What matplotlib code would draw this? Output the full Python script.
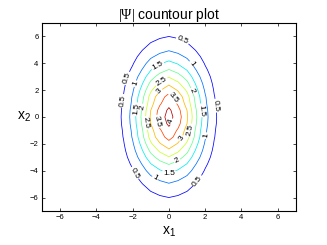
import numpy as np
import matplotlib
matplotlib.use('Agg')
import matplotlib.pyplot as plt

plt.rcParams['font.family'] = ['Liberation Sans', 'DejaVu Sans']
plt.rcParams['mathtext.fontset'] = 'custom'
plt.rcParams['mathtext.rm'] = 'Liberation Serif'
plt.rcParams['mathtext.it'] = 'Liberation Sans'
plt.rcParams['mathtext.sf'] = 'Liberation Sans'

# |Psi| read along the x1 axis (x2 = 0) and along the x2 axis (x1 = 0)
grid_x = [-7, -6.5, -6, -5.5, -5, -4.5, -4, -3.5, -3, -2.5, -2, -1.5, -1, -0.5,
          0, 0.5, 1, 1.5, 2, 2.5, 3, 3.5, 4, 4.5, 5, 5.5, 6, 6.5, 7]
psi_x = [0, 0, 0, 0, 0, 0.01, 0.03, 0.09, 0.25, 0.59, 1.19, 2.07, 3.07, 3.75,
         4.2, 3.75, 3.07, 2.07, 1.19, 0.59, 0.25, 0.09, 0.03, 0.01, 0, 0, 0, 0, 0]
grid_y = grid_x
psi_y = [0.23, 0.34, 0.5, 0.7, 0.96, 1.27, 1.63, 2.03, 2.47, 2.9, 3.31, 3.68, 3.85, 4.1,
         4.2, 4.1, 3.85, 3.68, 3.31, 2.9, 2.47, 2.03, 1.63, 1.27, 0.96, 0.7, 0.5, 0.34, 0.23]
psi_peak = 4.2
levels = [0.5, 1, 1.5, 2, 2.5, 3, 3.5, 4]

# where the contour labels sit in the reference
label_spots = [(0.75, 5.7), (1.3, 4.0), (-0.6, 3.8), (-2.35, 2.9), (-1.9, 2.5),
               (-0.45, 2.75), (1.3, 1.95), (-0.55, 1.95), (0.25, 1.45), (-2.55, 1.2),
               (2.62, 0.85), (-1.9, 0.6), (-1.5, 0.75), (1.85, 0.5), (0.14, -0.35),
               (-1.3, -0.45), (-0.7, -0.35), (1.2, -1.0), (2.1, -1.4), (0.7, -1.6),
               (0.5, -3.4), (0.0, -4.2), (-0.8, -4.65), (-1.9, -4.2), (1.6, -4.8)]

# value table for the contour routine
Z = np.outer(psi_y, psi_x) / psi_peak

fig = plt.figure(figsize=(3.27, 2.45), dpi=100)
ax = fig.add_axes([0.128, 0.139, 0.777, 0.767])

cs = ax.contour(grid_x, grid_y, Z, levels=levels, cmap='jet',
                vmin=0, vmax=psi_peak, linewidths=0.55)
ax.clabel(cs, fmt='%g', fontsize=6, colors='k', inline=True, inline_spacing=1,
          manual=label_spots)

ax.set_xlim(-7, 7)
ax.set_ylim(-7, 7)
ax.set_xticks([-6, -4, -2, 0, 2, 4, 6])
ax.set_yticks([-6, -4, -2, 0, 2, 4, 6])
ax.tick_params(direction='in', length=2.5, width=0.5, labelsize=5.5,
               top=True, right=True, pad=2.5)
for s in ax.spines.values():
    s.set_linewidth(0.8)

ax.set_title(r'$\mathrm{|\Psi|}$ countour plot', fontsize=10, pad=3)
ax.set_xlabel(r'x$_\mathsf{1}$', fontsize=10, labelpad=2)
ax.set_ylabel(r'x$_\mathsf{2}$', fontsize=10, rotation=0, labelpad=4, va='center')

fig.savefig('out.png', dpi=100)
